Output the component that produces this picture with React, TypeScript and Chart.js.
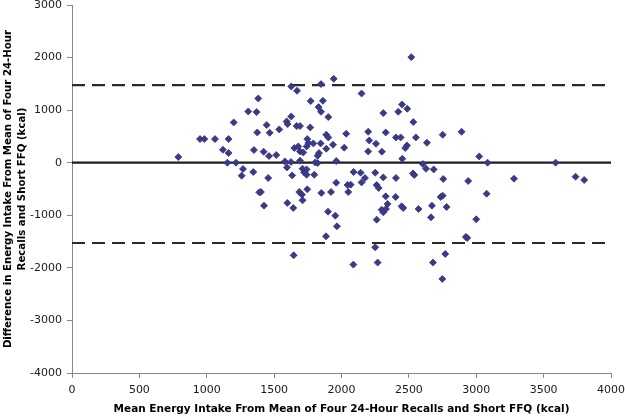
import { useEffect, useRef } from "react";
import { Chart, registerables } from "chart.js";

Chart.register(...registerables);

// Mean energy intake (kcal) – x values
const meanIntake = [
  789, 950, 982, 1061, 1162, 1120, 1162, 1153, 1217, 1200, 1269, 1259, 1345, 1350, 1308, 1370, 1382, 1375, 1390,
  2518, 1942, 1627, 1670, 1848, 2149, 1771, 1862, 1830, 1848, 1902, 1627, 1593, 1600, 1445, 1467, 1538, 1667, 1692,
  1768, 1887, 1902, 2035, 2198, 2310, 2421, 2449, 2488, 2533, 2328, 2404, 2439, 2552, 2634, 2751, 2206, 2256, 2198,
  2300, 2486, 2473, 2451, 1422, 1462, 1516, 1650, 1679, 1692, 1716, 1746, 1754, 1791, 1741, 1845, 1937, 1887, 2020,
  1833, 1823, 1805, 1823, 1580, 1625, 1692, 1961, 1595, 1456, 1634, 1711, 1741, 1723, 1741, 1798, 2090, 2142, 2174,
  2149, 2250, 2310, 2404, 2530, 2540, 2604, 2627, 2684, 2755, 1961, 1922, 1850, 2045, 2068, 2050, 2261, 2276, 2328,
  2402, 2736, 2751, 1402, 1687, 1707, 1746, 1425, 1598, 1642, 1711, 1900, 1954, 1966, 1885, 1645, 2088, 2250, 2268,
  2261, 2298, 2310, 2330, 2342, 2446, 2458, 2572, 2664, 2671, 2780, 2679, 2770, 2748,
  2891, 3022, 3084, 3589, 2940, 3280, 3737, 3801, 3077, 3000, 2923, 2933,
];

// Difference in energy intake (kcal) – y values
const difference = [
  108, 450, 450, 450, 450, 247, 184, 0, 0, 766, -120, -247, -177, 241, 975, 963, 1222, 576, -564,
  2008, 1596, 1450, 1368, 1495, 1317, 1172, 1178, 1058, 969, 868, 880, 785, 735, 716, 570, 633, 697, 697,
  671, 532, 481, 551, 589, 944, 969, 1108, 1026, 773, 576, 481, 481, 481, 380, 532, 424, 361, 215,
  209, 329, 279, 76, 209, 127, 146, 279, 310, 215, 196, 450, 374, 367, 310, 367, 342, 266, 285,
  184, 133, 6, -6, 25, 13, 38, 32, -89, -291, -241, -114, -127, -184, -228, -228, -177, -190, -291,
  -374, -190, -279, -291, -203, -234, -25, -114, -127, -310, -380, -557, -576, -424, -418, -557, -424, -481, -640,
  -652, -652, -627, -557, -557, -608, -507, -817, -766, -861, -716, -931, -1007, -1210, -1400, -1761, -1938, -1609, -1900,
  -1083, -893, -944, -880, -785, -830, -861, -880, -1039, -817, -842, -1900, -1735, -2210,
  589, 120, 0, 0, -348, -304, -266, -329, -589, -1077, -1412, -1431,
];

const meanDifference = 0;
const upperLimit = 1476;
const lowerLimit = -1527;

const xRange = [0, 4000];
const yRange = [-4000, 3000];
const xStep = 500;
const yStep = 1000;

const xTitle = "Mean Energy Intake From Mean of Four 24-Hour Recalls and Short FFQ (kcal)";
const yTitle = ["Difference in Energy Intake From Mean of Four 24-Hour", "Recalls and Short FFQ (kcal)"];

const FONT = "'DejaVu Sans', Verdana, sans-serif";

export default function App() {
  const ref = useRef<HTMLCanvasElement | null>(null);

  useEffect(() => {
    if (!ref.current) return;
    const points = meanIntake.map((x, i) => ({ x, y: difference[i] }));
    const hline = (v: number) => [
      { x: xRange[0], y: v },
      { x: xRange[1], y: v },
    ];
    const chart = new Chart(ref.current, {
      type: "scatter",
      data: {
        datasets: [
          {
            label: "Differences",
            data: points,
            pointStyle: "rectRot",
            pointRadius: 3.5,
            backgroundColor: "#3a3a88",
            borderColor: "#36367e",
            borderWidth: 0.8,
            order: 0,
          },
          {
            label: "Mean",
            type: "line",
            data: hline(meanDifference),
            borderColor: "#1e1e1e",
            borderWidth: 2.2,
            pointRadius: 0,
            order: 1,
          },
          {
            label: "Upper",
            type: "line",
            data: hline(upperLimit),
            borderColor: "#2a2a2a",
            borderWidth: 2.2,
            borderDash: [13, 7],
            pointRadius: 0,
            order: 1,
          },
          {
            label: "Lower",
            type: "line",
            data: hline(lowerLimit),
            borderColor: "#2a2a2a",
            borderWidth: 2.2,
            borderDash: [13, 7],
            pointRadius: 0,
            order: 1,
          },
        ],
      },
      options: {
        animation: false,
        responsive: false,
        devicePixelRatio: 1,
        layout: { padding: { top: 5, right: 14, bottom: 0, left: 0 } },
        plugins: { legend: { display: false }, tooltip: { enabled: false } },
        scales: {
          x: {
            type: "linear",
            min: xRange[0],
            max: xRange[1],
            afterFit: (s: any) => {
              s.height = 44;
              s.paddingLeft = 0;
              s.paddingRight = 0;
            },
            ticks: {
              stepSize: xStep,
              padding: 6,
              color: "#1a1a1a",
              font: { family: FONT, size: 11 },
              callback: (v: any) => String(v),
            },
            grid: { drawOnChartArea: false, tickLength: 5, color: "#8a8a8a" },
            border: { color: "#8a8a8a" },
            title: {
              display: true,
              text: xTitle,
              color: "#000",
              font: { family: FONT, size: 10.5, weight: "bold" },
              padding: { top: 0, bottom: 1 },
            },
          },
          y: {
            type: "linear",
            min: yRange[0],
            max: yRange[1],
            afterFit: (s: any) => {
              s.width = 72;
              s.paddingTop = 0;
              s.paddingBottom = 0;
            },
            ticks: {
              stepSize: yStep,
              padding: 5,
              color: "#1a1a1a",
              font: { family: FONT, size: 11 },
              callback: (v: any) => String(v),
            },
            grid: { drawOnChartArea: false, tickLength: 5, color: "#8a8a8a" },
            border: { color: "#8a8a8a" },
            title: {
              display: true,
              text: yTitle,
              color: "#000",
              font: { family: FONT, size: 10.2, weight: "bold", lineHeight: 1.4 },
              padding: { top: 1, bottom: 0 },
            },
          },
        },
      },
    });
    return () => chart.destroy();
  }, []);

  return (
    <div style={{ position: "fixed", left: 0, top: 0, width: 625, height: 417, background: "#fff" }}>
      <canvas ref={ref} width={625} height={417} />
    </div>
  );
}
